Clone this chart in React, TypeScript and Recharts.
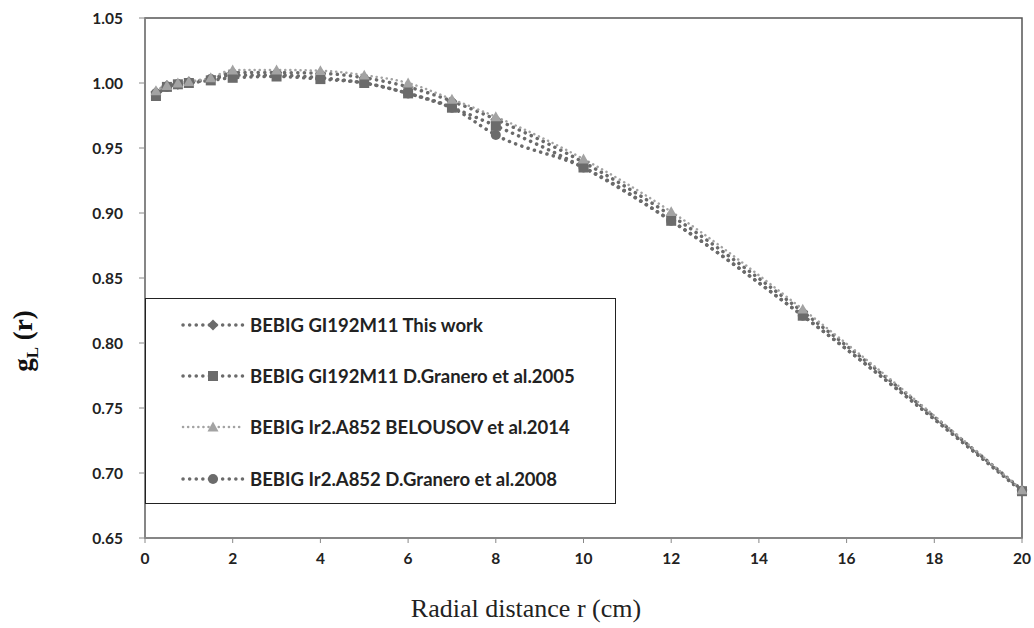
import React from 'react';
import { LineChart, Line, XAxis, YAxis, Legend, ReferenceArea } from 'recharts';

const radii = [0.25, 0.5, 0.75, 1, 1.5, 2, 3, 4, 5, 6, 7, 8, 10, 12, 15, 20];
const thisWork = [0.993, 0.998, 0.999, 1.001, 1.003, 1.008, 1.008, 1.0075, 1.004, 0.997, 0.986, 0.972, 0.939, 0.898, 0.824, 0.687];
const granero2005 = [0.990, 0.997, 0.999, 1.000, 1.002, 1.004, 1.005, 1.003, 1.000, 0.992, 0.981, 0.967, 0.935, 0.894, 0.821, 0.686];
const belousov2014 = [0.994, 0.998, 1.000, 1.001, 1.004, 1.010, 1.010, 1.0095, 1.006, 1.000, 0.9875, 0.974, 0.9415, 0.901, 0.826, 0.687];
const granero2008 = [0.992, 0.997, 0.999, 1.000, 1.003, 1.006, 1.006, 1.004, 1.000, 0.992, 0.981, 0.960, 0.935, 0.894, 0.821, 0.686];
const xTicks = [0, 2, 4, 6, 8, 10, 12, 14, 16, 18, 20];
const yTicks = [0.65, 0.7, 0.75, 0.8, 0.85, 0.9, 0.95, 1.0, 1.05];

const chartData = radii.map((r, i) => ({
  r,
  thisWork: thisWork[i],
  granero2005: granero2005[i],
  belousov2014: belousov2014[i],
  granero2008: granero2008[i],
}));

const DARK = '#6b6b6b';
const LIGHT = '#a3a3a3';

type Shape = 'diamond' | 'square' | 'triangle' | 'circle';

const marker = (shape: Shape, cx: number, cy: number, color: string, s = 5.5) => {
  if (shape === 'diamond') {
    return <polygon points={`${cx},${cy - s} ${cx + s},${cy} ${cx},${cy + s} ${cx - s},${cy}`} fill={color} />;
  }
  if (shape === 'square') {
    return <rect x={cx - s + 0.5} y={cy - s + 0.5} width={2 * s - 1} height={2 * s - 1} fill={color} />;
  }
  if (shape === 'triangle') {
    return <polygon points={`${cx},${cy - s} ${cx + s},${cy + s * 0.8} ${cx - s},${cy + s * 0.8}`} fill={color} />;
  }
  return <circle cx={cx} cy={cy} r={s - 0.5} fill={color} />;
};

const makeDot = (shape: Shape, color: string) => (props: any) => {
  const { cx, cy, index } = props;
  return <g key={`${shape}-${index}`}>{marker(shape, cx, cy, color)}</g>;
};

const series = [
  { key: 'thisWork', name: 'BEBIG GI192M11 This work', shape: 'diamond' as Shape, color: DARK, width: 3.5, dash: '0.1 6.5' },
  { key: 'granero2005', name: 'BEBIG GI192M11 D.Granero et al.2005', shape: 'square' as Shape, color: DARK, width: 3.5, dash: '0.1 6.5' },
  { key: 'belousov2014', name: 'BEBIG Ir2.A852 BELOUSOV et al.2014', shape: 'triangle' as Shape, color: LIGHT, width: 2.5, dash: '0.1 5' },
  { key: 'granero2008', name: 'BEBIG Ir2.A852 D.Granero et al.2008', shape: 'circle' as Shape, color: DARK, width: 3.5, dash: '0.1 6.5' },
];

const drawOrder = ['granero2008', 'thisWork', 'granero2005', 'belousov2014'];

const LegendBox = () => (
  <div
    style={{
      width: 471,
      height: 206,
      boxSizing: 'border-box',
      border: '1.5px solid #222',
      background: '#fff',
      paddingTop: 0,
      marginTop: -2,
    }}
  >
    {series.map(s => (
      <div key={s.key} style={{ display: 'flex', alignItems: 'center', height: 51.3 }}>
        <svg width={64} height={14} style={{ marginLeft: 35, marginRight: 5 }}>
          <line x1={2} y1={7} x2={62} y2={7} stroke={s.color} strokeWidth={s.width} strokeDasharray={s.dash} strokeLinecap="round" />
          {marker(s.shape, 32, 7, s.color, 5.5)}
        </svg>
        <span style={{ fontFamily: 'Lato, sans-serif', fontWeight: 700, fontSize: 18.5, color: '#222' }}>{s.name}</span>
      </div>
    ))}
  </div>
);

const YTitle = () => (
  <text
    x={32}
    y={341}
    transform="rotate(-90 32 341)"
    textAnchor="middle"
    fontFamily="'Liberation Serif', 'DejaVu Serif', serif"
    fontWeight={700}
    fontSize={27}
    fill="#111"
  >
    g<tspan fontSize={17} dy={6}>L</tspan>
    <tspan dy={-6}> (r)</tspan>
  </text>
);

const XTitle = () => (
  <text
    x={526}
    y={617}
    textAnchor="middle"
    fontFamily="'Liberation Serif', 'DejaVu Serif', serif"
    fontSize={26}
    fill="#222"
  >
    Radial distance r (cm)
  </text>
);

const tickStyle = { fontFamily: 'Lato, sans-serif', fontWeight: 700, fontSize: 15.5, fill: '#222' };

export default function App() {
  return (
    <div style={{ position: 'absolute', left: 0, top: 0, background: '#fff' }}>
      <LineChart width={1034} height={628} data={chartData} margin={{ top: 18, right: 12, bottom: 60, left: 0 }}>
        <ReferenceArea x1={0} x2={20} y1={0.65} y2={1.05} fill="none" stroke="#555" strokeWidth={1.5} ifOverflow="visible" />
        <XAxis
          type="number"
          dataKey="r"
          domain={[0, 20]}
          ticks={xTicks}
          height={30}
          tickSize={5}
          tickMargin={10}
          axisLine={{ stroke: '#888', strokeWidth: 1.5 }}
          tickLine={{ stroke: '#888' }}
          tick={tickStyle}
          label={<XTitle />}
        />
        <YAxis
          type="number"
          domain={[0.65, 1.05]}
          ticks={yTicks}
          width={145}
          tickSize={6}
          tickMargin={16}
          interval={0}
          tickFormatter={(v: number) => v.toFixed(2)}
          axisLine={{ stroke: '#888', strokeWidth: 1.5 }}
          tickLine={{ stroke: '#888' }}
          tick={tickStyle}
          label={<YTitle />}
        />
        <Legend
          layout="horizontal"
          verticalAlign="middle"
          align="center"
          content={<LegendBox />}
          wrapperStyle={{ left: 145, top: 300, width: 471, height: 206 }}
        />
        {drawOrder.map(k => {
          const s = series.find(x => x.key === k)!;
          return (
            <Line
              key={s.key}
              type="monotone"
              dataKey={s.key}
              name={s.name}
              stroke={s.color}
              strokeWidth={s.width}
              strokeDasharray={s.dash}
              strokeLinecap="round"
              dot={makeDot(s.shape, s.color)}
              activeDot={false}
              isAnimationActive={false}
            />
          );
        })}
      </LineChart>
    </div>
  );
}
